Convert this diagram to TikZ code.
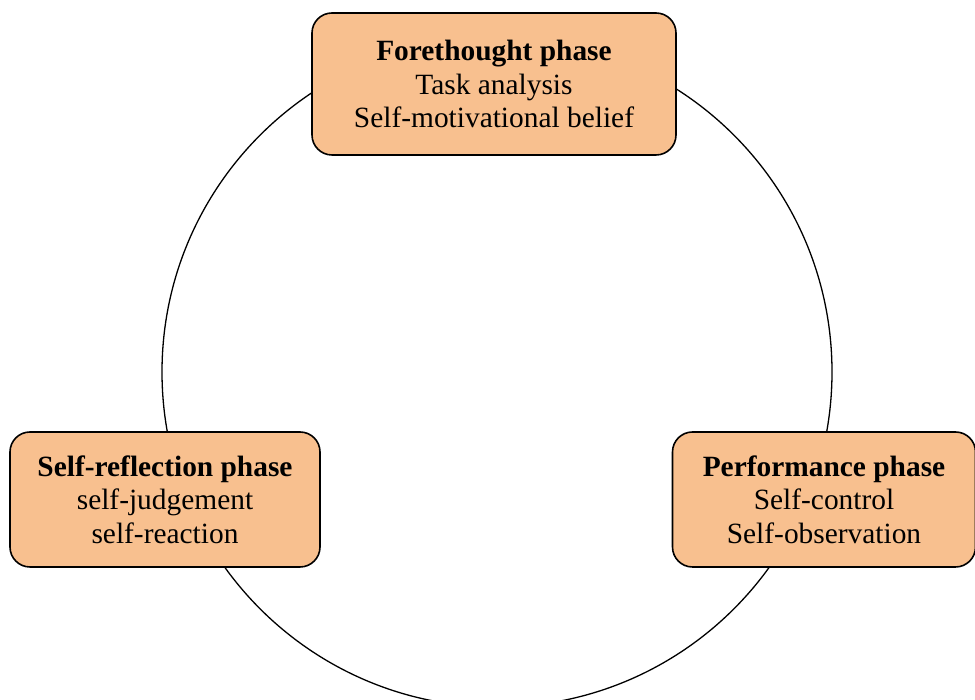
\documentclass[tikz,border=0pt]{standalone}
\usepackage{fontspec}
\setmainfont{Liberation Serif}
\definecolor{phasefill}{RGB}{248,192,143}
\tikzset{
  phasebox/.style={draw=black, line width=1.6pt, fill=phasefill, rounded corners=20pt,
    align=center, inner sep=0pt, font=\fontsize{29.4}{33.5}\selectfont},
  cycle/.style={draw=black, line width=1.3pt}
}
\begin{document}
\begin{tikzpicture}[x=1pt,y=1pt]
  \useasboundingbox (0,0) rectangle (975,700);
  % cycle linking the three phases
  \coordinate (c) at (497,328);
  \draw[cycle] (c) circle[radius=335];
  % phase boxes
  \node[phasebox, minimum width=364pt, minimum height=142pt] (fore) at (494,616)
    {\textbf{Forethought phase}\\Task analysis\\Self-motivational belief};
  \node[phasebox, minimum width=310pt, minimum height=135pt] (refl) at (165,200.5)
    {\textbf{Self-reflection phase}\\self-judgement\\self-reaction};
  \node[phasebox, minimum width=303pt, minimum height=135pt] (perf) at (824,200.5)
    {\textbf{Performance phase}\\Self-control\\Self-observation};
\end{tikzpicture}
\end{document}
